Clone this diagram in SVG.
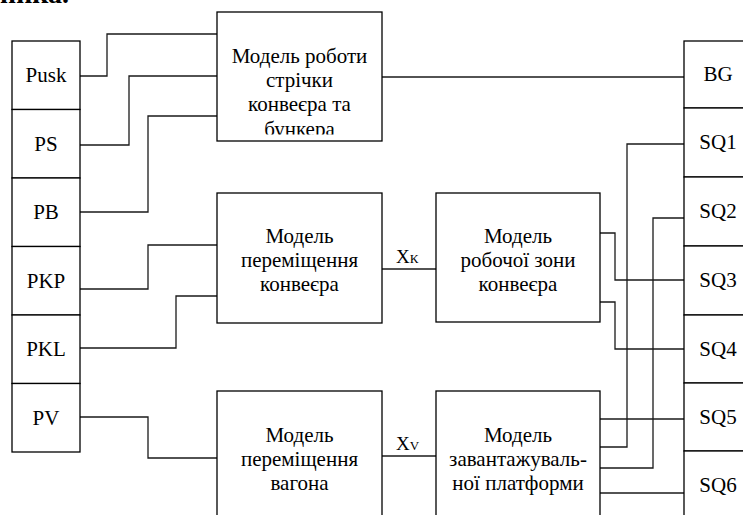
<svg xmlns="http://www.w3.org/2000/svg" width="743" height="515" viewBox="0 0 743 515">
<style>
.b{fill:#fff;stroke:#000;stroke-width:1.3}
.t{font-family:'Liberation Serif','Times New Roman','DejaVu Serif',serif;font-size:21px;fill:#000;text-anchor:middle}
.c{fill:none;stroke:#1a1a1a;stroke-width:1.3}
.x{font-family:'Liberation Serif','Times New Roman',serif;font-size:19px;fill:#000}
</style>
<defs>
<clipPath id="clipTop"><rect x="217" y="12" width="165" height="122.5"/></clipPath>
</defs>
<rect width="743" height="515" fill="#fff"/>
<text x="0" y="2.5" font-family="'Liberation Serif',serif" font-size="28" font-weight="bold">ника.</text>

<g id="connectors">
<polyline class="c" points="80,76 107,76 107,34 217,34"/>
<polyline class="c" points="80,145 129,145 129,76 217,76"/>
<polyline class="c" points="80,212 148,212 148,116 217,116"/>
<polyline class="c" points="80,289 148,289 148,245 217,245"/>
<polyline class="c" points="80,348 176,348 176,296 217,296"/>
<polyline class="c" points="80,417 148,417 148,458 217,458"/>
<line class="c" x1="382" y1="77" x2="684" y2="77"/>
<line class="c" x1="382" y1="269" x2="436" y2="269"/>
<line class="c" x1="382" y1="456" x2="436" y2="456"/>
<polyline class="c" points="684,144 627,144 627,447 600,447"/>
<polyline class="c" points="684,218 653,218 653,468 600,468"/>
<polyline class="c" points="684,280 615,280 615,233 600,233"/>
<polyline class="c" points="684,349 615,349 615,302 600,302"/>
<line class="c" x1="684" y1="419" x2="600" y2="419"/>
<line class="c" x1="684" y1="493" x2="600" y2="493"/>
</g>

<g id="Pusk"><rect class="b" x="12" y="41" width="68" height="68.5"/><text class="t" x="46" y="82">Pusk</text></g>
<g id="PS"><rect class="b" x="12" y="109.5" width="68" height="68.5"/><text class="t" x="46" y="150.5">PS</text></g>
<g id="PB"><rect class="b" x="12" y="178" width="68" height="68.5"/><text class="t" x="46" y="219">PB</text></g>
<g id="PKP"><rect class="b" x="12" y="246.5" width="68" height="68.5"/><text class="t" x="46" y="287.5">PKP</text></g>
<g id="PKL"><rect class="b" x="12" y="315" width="68" height="68.5"/><text class="t" x="46" y="356">PKL</text></g>
<g id="PV"><rect class="b" x="12" y="383.5" width="68" height="68.5"/><text class="t" x="46" y="424.5">PV</text></g>

<g id="BG"><rect class="b" x="684" y="41" width="68" height="67"/><text class="t" x="718" y="81">BG</text></g>
<g id="SQ1"><rect class="b" x="684" y="108" width="68" height="69"/><text class="t" x="718" y="149">SQ1</text></g>
<g id="SQ2"><rect class="b" x="684" y="177" width="68" height="69"/><text class="t" x="718" y="218">SQ2</text></g>
<g id="SQ3"><rect class="b" x="684" y="246" width="68" height="69"/><text class="t" x="718" y="287">SQ3</text></g>
<g id="SQ4"><rect class="b" x="684" y="315" width="68" height="68"/><text class="t" x="718" y="356">SQ4</text></g>
<g id="SQ5"><rect class="b" x="684" y="383" width="68" height="68"/><text class="t" x="718" y="424">SQ5</text></g>
<g id="SQ6"><rect class="b" x="684" y="451" width="68" height="68"/><text class="t" x="718" y="492">SQ6</text></g>

<g id="belt">
<rect class="b" x="217" y="12" width="165" height="129"/>
<g clip-path="url(#clipTop)">
<text class="t" x="299.5" y="63">Модель роботи</text>
<text class="t" x="299.5" y="87">стрічки</text>
<text class="t" x="299.5" y="111">конвеєра та</text>
<text class="t" x="299.5" y="136">бункера</text>
</g>
</g>

<g id="conveyorMove">
<rect class="b" x="217" y="193" width="165" height="130"/>
<text class="t" x="299.5" y="243">Модель</text>
<text class="t" x="299.5" y="267">переміщення</text>
<text class="t" x="299.5" y="291">конвеєра</text>
</g>

<g id="wagonMove">
<rect class="b" x="217" y="391" width="165" height="130"/>
<text class="t" x="299.5" y="442">Модель</text>
<text class="t" x="299.5" y="466">переміщення</text>
<text class="t" x="299.5" y="490">вагона</text>
</g>

<g id="workZone">
<rect class="b" x="436" y="193" width="164" height="129"/>
<text class="t" x="518" y="243">Модель</text>
<text class="t" x="518" y="267">робочої зони</text>
<text class="t" x="518" y="291">конвеєра</text>
</g>

<g id="platform">
<rect class="b" x="436" y="391" width="164" height="130"/>
<text class="t" x="518" y="442">Модель</text>
<text class="t" x="518" y="466">завантажуваль-</text>
<text class="t" x="518" y="490">ної платформи</text>
</g>

<text class="x" x="396" y="263">X<tspan font-size="13">К</tspan></text>
<text class="x" x="396" y="450">X<tspan font-size="13">V</tspan></text>
</svg>
